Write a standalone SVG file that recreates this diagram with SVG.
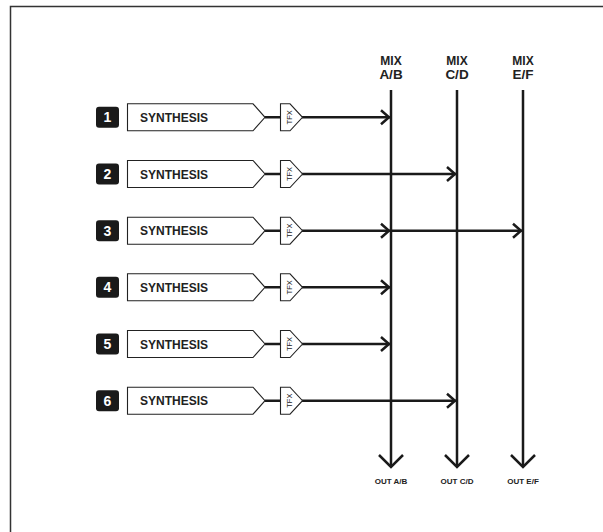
<svg xmlns="http://www.w3.org/2000/svg" width="603" height="532" viewBox="0 0 603 532">
<style>
.frame{fill:none;stroke:#333;stroke-width:1.5}
.box{fill:#fff;stroke:#222;stroke-width:1.1}
.badge{fill:#1a1a1a}
.num{font-family:"Liberation Sans",Arial,sans-serif;font-weight:bold;font-size:14px;fill:#fff;text-anchor:middle}
.lbl{font-family:"Liberation Sans",Arial,sans-serif;font-weight:bold;font-size:12px;fill:#222}
.tfx{font-family:"Liberation Sans",Arial,sans-serif;font-size:7.5px;fill:#222;text-anchor:middle}
.wire{fill:none;stroke:#1a1a1a;stroke-width:2.5}
.head{fill:none;stroke:#1a1a1a;stroke-width:2.5;stroke-linejoin:miter}
.mix{font-family:"Liberation Sans",Arial,sans-serif;font-weight:bold;font-size:12px;fill:#222;text-anchor:middle}
.mix2{font-family:"Liberation Sans",Arial,sans-serif;font-weight:bold;font-size:13.5px;fill:#222;text-anchor:middle}
.out{font-family:"Liberation Sans",Arial,sans-serif;font-weight:bold;font-size:8px;fill:#222;text-anchor:middle}
</style>
<defs>
<g id="chan">
<path class="wire" d="M265,0 H281 M302,0 H391"/>
<path class="box" d="M127.5,-13.5 H253 L265,0 L253,13.5 H127.5 Z"/>
<text class="lbl" x="140" y="4.5">SYNTHESIS</text>
<path class="box" d="M280.5,-13.5 H290 L302.5,0 L290,13.5 H280.5 Z"/>
<text class="tfx" transform="translate(289,0) rotate(-90)" y="2.7">TFX</text>
</g>
</defs>
<path class="frame" d="M10.5,532 V6.5 H603"/>
<g id="connectors">
<path class="wire" d="M391,90 V466"/>
<path class="wire" d="M457,90 V466"/>
<path class="wire" d="M523,90 V466"/>
<path class="head" d="M379,455 L391,467 L403,455"/>
<path class="head" d="M445,455 L457,467 L469,455"/>
<path class="head" d="M511,455 L523,467 L535,455"/>
<path class="wire" d="M391,174 H457 M391,230.7 H523 M391,400.7 H457"/>
<path class="head" d="M381,110.3 L389,117.3 L381,124.3"/>
<path class="head" d="M447,167 L455,174 L447,181"/>
<path class="head" d="M381,223.7 L389,230.7 L381,237.7"/>
<path class="head" d="M513,223.7 L521,230.7 L513,237.7"/>
<path class="head" d="M381,280.3 L389,287.3 L381,294.3"/>
<path class="head" d="M381,337 L389,344 L381,351"/>
<path class="head" d="M447,393.7 L455,400.7 L447,407.7"/>
</g>
<g id="ch1" transform="translate(0,117.3)"><rect class="badge" x="96" y="-10.5" width="23" height="21" rx="3"/><text class="num" x="107.5" y="5">1</text><use href="#chan"/></g>
<g id="ch2" transform="translate(0,174)"><rect class="badge" x="96" y="-10.5" width="23" height="21" rx="3"/><text class="num" x="107.5" y="5">2</text><use href="#chan"/></g>
<g id="ch3" transform="translate(0,230.7)"><rect class="badge" x="96" y="-10.5" width="23" height="21" rx="3"/><text class="num" x="107.5" y="5">3</text><use href="#chan"/></g>
<g id="ch4" transform="translate(0,287.3)"><rect class="badge" x="96" y="-10.5" width="23" height="21" rx="3"/><text class="num" x="107.5" y="5">4</text><use href="#chan"/></g>
<g id="ch5" transform="translate(0,344)"><rect class="badge" x="96" y="-10.5" width="23" height="21" rx="3"/><text class="num" x="107.5" y="5">5</text><use href="#chan"/></g>
<g id="ch6" transform="translate(0,400.7)"><rect class="badge" x="96" y="-10.5" width="23" height="21" rx="3"/><text class="num" x="107.5" y="5">6</text><use href="#chan"/></g>
<g id="mixAB"><text class="mix" x="391" y="65">MIX</text><text class="mix2" x="391" y="79">A/B</text><text class="out" x="391" y="484">OUT A/B</text></g>
<g id="mixCD"><text class="mix" x="457" y="65">MIX</text><text class="mix2" x="457" y="79">C/D</text><text class="out" x="457" y="484">OUT C/D</text></g>
<g id="mixEF"><text class="mix" x="523" y="65">MIX</text><text class="mix2" x="523" y="79">E/F</text><text class="out" x="523" y="484">OUT E/F</text></g>
</svg>
